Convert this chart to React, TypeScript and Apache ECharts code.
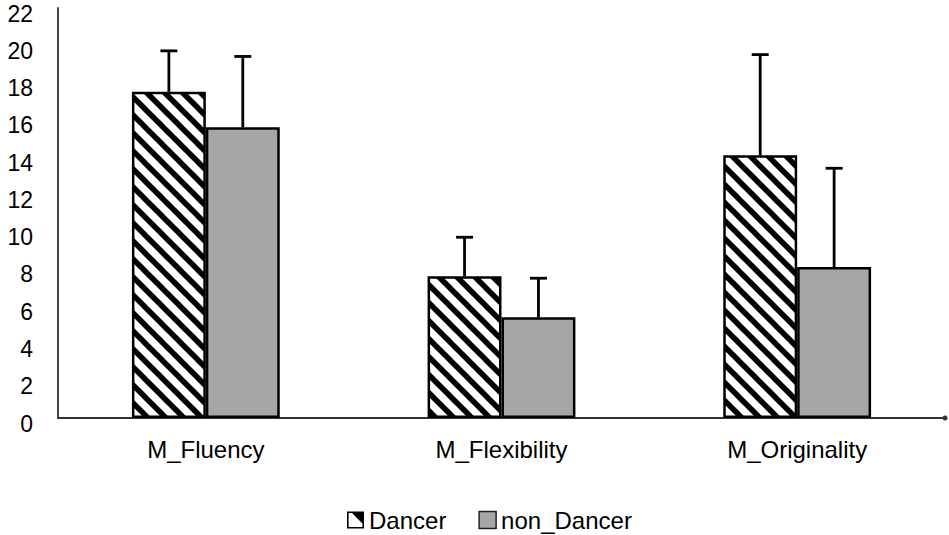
import React, { useEffect, useRef } from "react";
import * as echarts from "echarts";

const categories = ["M_Fluency", "M_Flexibility", "M_Originality"];
const dancerMeans = [17.5, 7.6, 14.1];
const dancerErrTop = [19.7, 9.7, 19.5];
const nonDancerMeans = [15.6, 5.4, 8.1];
const nonDancerErrTop = [19.4, 7.5, 13.4];
const yTicks = { min: 0, max: 22, interval: 2 };

function makeHatch(): HTMLCanvasElement {
  const s = 18;
  const c = document.createElement("canvas");
  c.width = s;
  c.height = s;
  const ctx = c.getContext("2d")!;
  ctx.fillStyle = "#ffffff";
  ctx.fillRect(0, 0, s, s);
  ctx.strokeStyle = "#000000";
  ctx.lineWidth = 5.5;
  for (const off of [-s, 0, s]) {
    ctx.beginPath();
    ctx.moveTo(off - 2, -2);
    ctx.lineTo(off + s + 2, s + 2);
    ctx.stroke();
  }
  return c;
}

const dancerIcon =
  "path://M0 0H17V17H0Z M1.6 1.6V15.4H15.4V1.6Z M5 1.6H15.4V12Z";

export default function App() {
  const ref = useRef<HTMLDivElement>(null);
  useEffect(() => {
    document.body.style.margin = "0";
    if (!ref.current) return;
    const chart = echarts.init(ref.current, undefined, { renderer: "svg" });
    const hatch = { image: makeHatch(), repeat: "repeat" };
    const font = "Liberation Sans, Arial, sans-serif";

    const errRender = (side: number) => (params: any, api: any) => {
      const idx = api.value(0);
      const top = api.value(2);
      const base = api.coord([idx, api.value(1)]);
      const tp = api.coord([idx, top]);
      const band = api.size([1, 0])[0];
      const x = base[0] + (side * band) / 8;
      const style = { stroke: "#000", lineWidth: 2.8 };
      return {
        type: "group",
        children: [
          { type: "line", shape: { x1: x, y1: base[1], x2: x, y2: tp[1] }, style },
          { type: "line", shape: { x1: x - 8.5, y1: tp[1], x2: x + 8.5, y2: tp[1] }, style },
        ],
      };
    };

    chart.setOption({
      animation: false,
      grid: { left: 58, right: 4, top: 8, bottom: 117, containLabel: false },
      legend: {
        bottom: 3,
        left: 347,
        padding: 0,
        itemWidth: 17,
        itemHeight: 17,
        itemGap: 32,
        textStyle: { fontSize: 24, color: "#000", fontFamily: font },
        data: [
          { name: "Dancer", icon: dancerIcon, itemStyle: { color: "#000", borderWidth: 0 } },
          { name: "non_Dancer", icon: "rect", itemStyle: { color: "#a6a6a6", borderColor: "#222", borderWidth: 1.5 } },
        ],
      },
      xAxis: {
        type: "category",
        data: categories,
        axisLine: { lineStyle: { color: "#333", width: 2 }, symbol: ["none", "circle"], symbolSize: [5, 5] },
        axisTick: { show: false },
        axisLabel: { fontSize: 24, color: "#000", fontFamily: font, margin: 19 },
      },
      yAxis: {
        type: "value",
        min: yTicks.min,
        max: yTicks.max,
        interval: yTicks.interval,
        splitLine: { show: false },
        axisLine: { show: true, lineStyle: { color: "#444", width: 2 } },
        axisTick: { show: false },
        axisLabel: {
          color: "#000",
          margin: 25,
          formatter: "{v|{value}}",
          rich: {
            v: { fontSize: 23, color: "#000", fontFamily: font, lineHeight: 34, verticalAlign: "bottom" },
          },
        },
      },
      series: [
        {
          name: "Dancer",
          type: "bar",
          data: dancerMeans,
          barWidth: "25%",
          barGap: "0%",
          itemStyle: { color: hatch, borderColor: "#000", borderWidth: 2.5 },
        },
        {
          name: "non_Dancer",
          type: "bar",
          data: nonDancerMeans,
          barWidth: "25%",
          barGap: "0%",
          itemStyle: { color: "#a6a6a6", borderColor: "#000", borderWidth: 2.5 },
        },
        {
          type: "custom",
          renderItem: errRender(-1),
          data: dancerMeans.map((v, i) => [i, v, dancerErrTop[i]]),
          z: 3,
          silent: true,
        },
        {
          type: "custom",
          renderItem: errRender(1),
          data: nonDancerMeans.map((v, i) => [i, v, nonDancerErrTop[i]]),
          z: 3,
          silent: true,
        },
      ],
    });
    return () => chart.dispose();
  }, []);
  return <div ref={ref} style={{ width: 949, height: 535 }} />;
}
